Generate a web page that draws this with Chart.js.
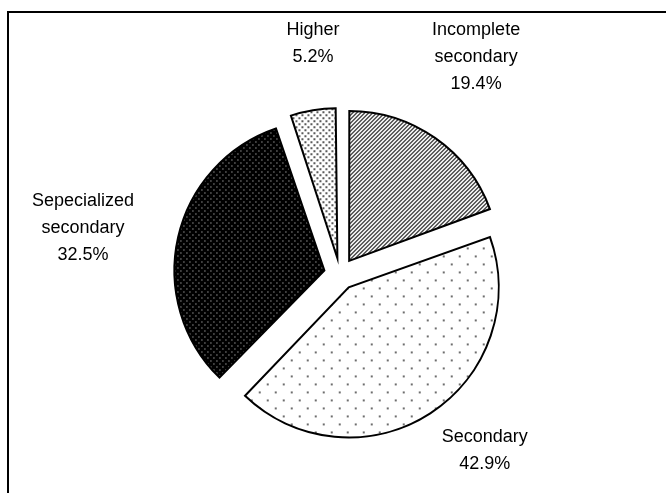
<!DOCTYPE html>
<html>
<head>
<meta charset="utf-8">
<script src="https://cdn.jsdelivr.net/npm/chart.js@4/dist/chart.umd.min.js"></script>
<style>
  body { margin: 0; background: #fff; }
  #wrap { width: 666px; height: 493px; }
</style>
</head>
<body>
<div id="wrap"><canvas id="grafPizza" width="666" height="493"></canvas></div>
<script>
// dados do grafico
var categories = ["Incomplete\nsecondary", "Secondary", "Sepecialized\nsecondary", "Higher"];
var shares = [19.4, 42.9, 32.5, 5.2];
var shareLabels = ["19.4%", "42.9%", "32.5%", "5.2%"];

// padroes de preenchimento (tiles pequenos)
function makePattern(w, h, bg, fg, cells, size) {
  var c = document.createElement("canvas");
  c.width = w;
  c.height = h;
  var g = c.getContext("2d");
  g.fillStyle = bg;
  g.fillRect(0, 0, w, h);
  g.fillStyle = fg;
  for (var i = 0; i < cells.length; i++) {
    g.fillRect(cells[i][0], cells[i][1], size, size);
  }
  return document.getElementById("grafPizza").getContext("2d").createPattern(c, "repeat");
}

var hatchCells = [];
for (var y = 0; y < 4; y++) {
  for (var x = 0; x < 4; x++) {
    if ((x + y) % 4 < 2) hatchCells.push([x, y]);
  }
}
var fills = [
  makePattern(4, 4, "#fff", "#4a4a4a", hatchCells, 1),
  makePattern(16, 16, "#fff", "#6e6e6e", [[2, 2], [10, 10]], 2),
  makePattern(6, 6, "#000", "#e0e0e0", [[1, 1], [4, 4]], 1),
  makePattern(6, 6, "#fff", "#5a5a5a", [[1, 1], [4, 4]], 2)
];

var EXPLODE = 16; // deslocamento das fatias em px

// moldura e rotulos
var piePlugin = {
  id: "piePlugin",
  afterDatasetsUpdate: function (chart) {
    // compensa o aumento de raio que o Chart.js aplica com offset
    var arcs = chart.getDatasetMeta(0).data;
    arcs.forEach(function (a) {
      var circ = a.endAngle - a.startAngle;
      var fix = 1 - Math.sin(Math.min(Math.PI, circ));
      a.outerRadius = a.outerRadius - EXPLODE * fix;
    });
  },
  beforeDraw: function (chart) {
    var ctx = chart.ctx;
    ctx.save();
    ctx.strokeStyle = "#000";
    ctx.lineWidth = 2;
    ctx.strokeRect(8, 12, 700, 600);
    ctx.restore();
  },
  afterDatasetsDraw: function (chart, args, opts) {
    var ctx = chart.ctx;
    var arcs = chart.getDatasetMeta(0).data;
    ctx.save();
    ctx.fillStyle = "#000";
    ctx.font = "18px 'Liberation Sans', Arial, sans-serif";
    ctx.textAlign = "center";
    ctx.textBaseline = "middle";
    arcs.forEach(function (a, i) {
      var mid = (a.startAngle + a.endAngle) / 2 + opts.shift[i] * Math.PI / 180;
      var cx = a.x + Math.cos(mid) * opts.dist[i];
      var cy = a.y + Math.sin(mid) * opts.dist[i];
      var lines = categories[i].split("\n").concat([shareLabels[i]]);
      var lh = 27;
      var top = cy - (lines.length - 1) * lh / 2;
      for (var k = 0; k < lines.length; k++) {
        ctx.fillText(lines[k], cx, top + k * lh);
      }
    });
    ctx.restore();
  }
};

var pizza = new Chart(document.getElementById("grafPizza"), {
  type: "pie",
  data: {
    labels: categories,
    datasets: [{
      data: shares,
      backgroundColor: fills,
      borderColor: "#000",
      borderWidth: 2,
      borderJoinStyle: "miter",
      offset: EXPLODE * 4,
      hoverOffset: EXPLODE * 4
    }]
  },
  options: {
    responsive: false,
    animation: false,
    radius: 150,
    layout: { padding: { left: 30, right: 16, top: 80, bottom: 25 } },
    plugins: {
      legend: { display: false },
      tooltip: { enabled: false },
      piePlugin: {
        dist: [256, 228, 261, 232],
        shift: [-2.8, -6.5, -2.7, 2.7]
      }
    }
  },
  plugins: [piePlugin]
});
</script>
</body>
</html>
